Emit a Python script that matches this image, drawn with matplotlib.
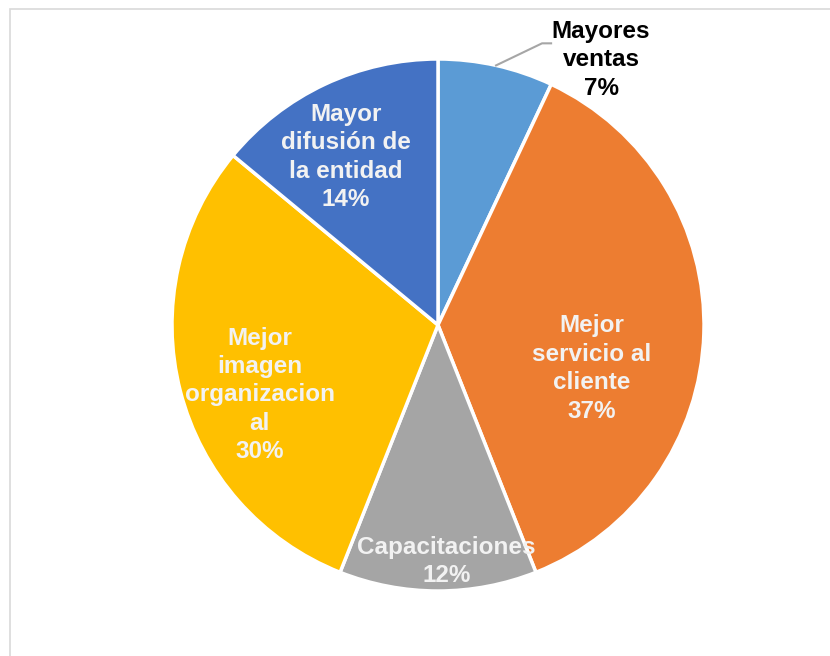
import numpy as np
import matplotlib.pyplot as plt
from matplotlib.patches import Rectangle

labels = ["Mayores\nventas", "Mejor\nservicio al\ncliente", "Capacitaciones",
          "Mejor\nimagen\norganizacion\nal", "Mayor\ndifusión de\nla entidad"]
values = [7, 37, 12, 30, 14]
colors = ["#5B9BD5", "#ED7D31", "#A5A5A5", "#FFC000", "#4472C4"]

# label placement: (radius, angle nudge in degrees) relative to slice middle
label_pos = [(1.17, -19), (0.60, -14), (0.89, 2), (0.72, 7), (0.72, 3.5)]
label_color = ["black", "#F2F2F2", "#F2F2F2", "#F2F2F2", "#F2F2F2"]

plt.rcParams['font.family'] = ['Liberation Sans', 'DejaVu Sans']

W, H = 830, 656
fig = plt.figure(figsize=(W / 100, H / 100), dpi=100)

# chart frame (only left and top edges fall inside the picture)
fig.patches.append(Rectangle((10 / W, -0.1), 1.2, 1 - 9 / H + 0.1, transform=fig.transFigure,
                             fill=False, edgecolor="#D9D9D9", linewidth=1.2))

cx, cy, r = 438, 325, 266
ax = fig.add_axes([(cx - r) / W, (H - cy - r) / H, 2 * r / W, 2 * r / H])
wedges, _ = ax.pie(values, colors=colors, startangle=90, counterclock=False,
                   wedgeprops=dict(edgecolor="white", linewidth=2.5))
ax.set_xlim(-1, 1)
ax.set_ylim(-1, 1)
ax.set_aspect("equal")
ax.axis("off")

for w, lab, v, (rad, nud), col in zip(wedges, labels, values, label_pos, label_color):
    mid = np.deg2rad((w.theta1 + w.theta2) / 2 + nud)
    x, y = rad * np.cos(mid), rad * np.sin(mid)
    ax.text(x, y, f"{lab}\n{v}%", ha="center", va="center", fontsize=17.5,
            fontweight="bold", color=col, linespacing=1.3, clip_on=False)

# leader line for the small slice
w = wedges[0]
mid = np.deg2rad((w.theta1 + w.theta2) / 2)
x0, y0 = np.cos(mid), np.sin(mid)
ax.plot([x0, x0 + 0.173, x0 + 0.207], [y0, y0 + 0.083, y0 + 0.083],
        color="#A6A6A6", linewidth=1.5, clip_on=False)

fig.savefig("out.png", dpi=100)
